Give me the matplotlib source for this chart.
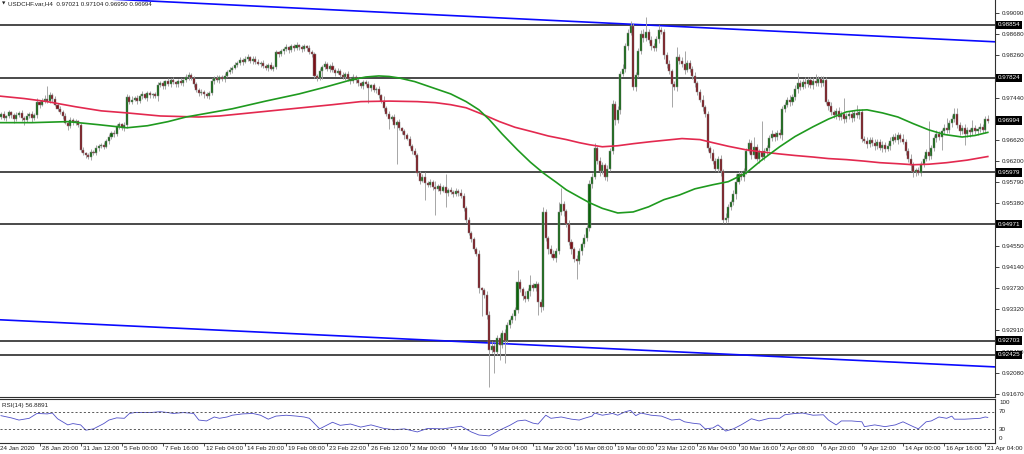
import matplotlib
matplotlib.use("Agg")
import matplotlib.pyplot as plt
import matplotlib.transforms as mtrans
import numpy as np

plt.rcParams['font.family'] = ['Liberation Sans', 'DejaVu Sans']

# ---------------- data ----------------
chart_title = "USDCHF.var,H4  0.97021 0.97104 0.96950 0.96994"
rsi_title = "RSI(14) 56.8891"

first_open_pips = 9704          # prices in pips (1e-4)
close_pips = [
    9706, 9712, 9704, 9708, 9715, 9710, 9702, 9709, 9714, 9705,
    9700, 9708, 9712, 9704, 9710, 9735, 9730, 9738, 9742, 9738,
    9748, 9742, 9730, 9722, 9716, 9708, 9695, 9688, 9700, 9696,
    9698, 9690, 9642, 9635, 9632, 9628, 9638, 9635, 9645, 9650,
    9652, 9648, 9660, 9668, 9675, 9672, 9688, 9692, 9684, 9690,
    9745, 9736, 9740, 9744, 9738, 9746, 9750, 9744, 9752, 9748,
    9750, 9746, 9768, 9772, 9766, 9776, 9770, 9778, 9774, 9770,
    9776, 9772, 9778, 9784, 9788, 9782, 9770, 9758, 9752, 9755,
    9750, 9746, 9752, 9776, 9782, 9778, 9784, 9780, 9786, 9794,
    9798, 9802, 9808, 9812, 9818, 9814, 9820, 9822, 9816, 9820,
    9814, 9810, 9812, 9806, 9802, 9808, 9800, 9804, 9832, 9828,
    9834, 9838, 9842, 9836, 9844, 9840, 9846, 9842, 9838, 9844,
    9840, 9832, 9828, 9786, 9782, 9796, 9804, 9810, 9800, 9806,
    9798, 9792, 9796, 9788, 9784, 9790, 9780, 9776, 9784, 9778,
    9772, 9766, 9774, 9770, 9762, 9768, 9758, 9760, 9748, 9738,
    9724, 9712, 9702, 9706, 9690, 9696, 9684, 9678, 9670, 9664,
    9650, 9640, 9632, 9596, 9582, 9590, 9578, 9574, 9580, 9570,
    9566, 9572, 9562, 9570, 9558, 9564, 9560, 9556, 9562, 9558,
    9552, 9528, 9505, 9480, 9468, 9448, 9440, 9372, 9368, 9360,
    9320, 9252, 9260, 9248, 9275, 9262, 9285, 9270, 9300, 9310,
    9318, 9330, 9385, 9370, 9358, 9352, 9366, 9378, 9372, 9380,
    9346, 9335, 9520, 9470, 9448, 9440, 9432, 9445, 9520, 9536,
    9522, 9498, 9462, 9448, 9430, 9425, 9445, 9458, 9470, 9490,
    9575, 9590, 9645, 9620, 9600, 9612, 9590, 9605, 9640, 9732,
    9700, 9720, 9790, 9800, 9845, 9870, 9884, 9765, 9788, 9835,
    9868, 9860, 9872, 9856, 9845, 9840, 9858, 9875, 9872, 9826,
    9810, 9795, 9770, 9765, 9822, 9815, 9810, 9798, 9812, 9800,
    9785, 9772, 9755, 9740, 9725, 9712, 9645, 9635, 9620, 9605,
    9625, 9600, 9505, 9510, 9530, 9540, 9555, 9580, 9595, 9590,
    9600, 9640, 9655, 9632, 9648, 9625, 9638, 9628, 9640, 9645,
    9665, 9672, 9668, 9675, 9670, 9722, 9730, 9740, 9735, 9745,
    9760, 9772, 9765, 9775, 9770, 9778, 9768, 9776, 9772, 9780,
    9772, 9778, 9736, 9728, 9715, 9710, 9718, 9706, 9712, 9702,
    9708, 9712, 9705, 9714, 9710, 9716, 9664, 9660, 9654, 9662,
    9655, 9650, 9658, 9646, 9652, 9644, 9650, 9660, 9668, 9662,
    9670, 9664, 9658, 9640, 9625, 9612, 9598, 9602, 9596, 9615,
    9625, 9638, 9630, 9645, 9665, 9672, 9668, 9678, 9685, 9680,
    9695, 9702, 9712, 9690, 9678, 9685, 9672, 9680, 9676, 9684,
    9678, 9682, 9686, 9680, 9702, 9699,
]
upper_wick_pips = [
    4, 3, 6, 2, 5, 3, 4, 6, 3, 5,
    3, 5, 4, 6, 3, 8, 4, 5, 6, 25,
    6, 4, 5, 3, 6, 4, 5, 3, 6, 4,
    5, 3, 4, 6, 3, 4, 5, 3, 6, 4,
    3, 6, 4, 5, 3, 6, 4, 5, 3, 6,
    5, 4, 6, 3, 5, 4, 6, 3, 5, 4,
    3, 5, 6, 4, 5, 3, 6, 4, 5, 3,
    4, 6, 3, 5, 6, 4, 3, 5, 4, 6,
    3, 5, 4, 6, 3, 5, 4, 3, 6, 4,
    5, 3, 6, 4, 5, 3, 4, 6, 3, 5,
    4, 6, 3, 5, 4, 3, 6, 4, 5, 3,
    5, 4, 6, 3, 5, 4, 6, 3, 4, 5,
    3, 6, 4, 5, 3, 6, 4, 5, 3, 4,
    8, 4, 6, 3, 5, 4, 6, 3, 5, 4,
    6, 3, 5, 4, 6, 3, 5, 4, 6, 3,
    8, 4, 6, 3, 5, 4, 6, 3, 5, 4,
    5, 4, 6, 3, 5, 4, 8, 3, 5, 4,
    12, 4, 6, 3, 25, 4, 6, 3, 5, 4,
    8, 5, 4, 6, 3, 5, 4, 6, 3, 5,
    6, 8, 10, 5, 6, 8, 5, 7, 6, 5,
    6, 5, 23, 6, 5, 8, 6, 20, 5, 6,
    5, 6, 10, 6, 5, 8, 6, 5, 20, 32,
    6, 5, 8, 6, 5, 7, 6, 5, 8, 6,
    8, 6, 10, 5, 8, 6, 5, 7, 6, 8,
    6, 8, 5, 10, 6, 8, 10, 5, 6, 5,
    8, 10, 28, 6, 8, 5, 6, 10, 6, 5,
    6, 8, 5, 6, 20, 6, 8, 25, 6, 5,
    6, 8, 5, 6, 8, 5, 6, 5, 8, 6,
    5, 6, 5, 8, 6, 5, 8, 15, 6, 5,
    6, 5, 8, 6, 20, 5, 6, 60, 5, 6,
    6, 8, 5, 6, 8, 5, 6, 5, 8, 6,
    8, 20, 6, 5, 8, 6, 5, 8, 14, 6,
    6, 8, 5, 6, 8, 5, 6, 8, 5, 31,
    6, 5, 8, 6, 15, 5, 6, 5, 8, 6,
    6, 8, 5, 6, 8, 5, 6, 8, 5, 6,
    6, 5, 8, 6, 5, 8, 6, 5, 6, 5,
    6, 5, 60, 6, 5, 8, 6, 5, 8, 20,
    6, 8, 12, 12, 6, 5, 8, 6, 5, 16,
    6, 5, 8, 6, 5, 8,
]
lower_wick_pips = [
    5, 3, 4, 6, 3, 5, 8, 4, 3, 6,
    10, 4, 3, 8, 4, 5, 6, 3, 4, 5,
    4, 6, 3, 5, 4, 6, 3, 8, 4, 5,
    6, 3, 5, 4, 6, 3, 5, 4, 3, 6,
    4, 5, 3, 6, 4, 5, 3, 6, 4, 5,
    6, 4, 5, 3, 6, 4, 5, 3, 6, 4,
    5, 3, 8, 4, 5, 6, 3, 5, 4, 6,
    5, 4, 6, 3, 5, 4, 6, 3, 5, 4,
    6, 3, 5, 4, 6, 3, 5, 4, 6, 3,
    4, 6, 3, 5, 4, 6, 3, 5, 4, 6,
    5, 3, 6, 4, 5, 6, 3, 5, 4, 6,
    3, 5, 4, 6, 3, 5, 4, 6, 5, 4,
    6, 3, 5, 4, 6, 3, 15, 4, 5, 6,
    4, 6, 3, 5, 4, 6, 3, 5, 4, 6,
    5, 3, 6, 4, 28, 5, 3, 6, 4, 5,
    6, 4, 20, 3, 6, 75, 4, 5, 6, 3,
    5, 6, 4, 5, 6, 3, 33, 5, 4, 6,
    50, 5, 6, 3, 27, 5, 4, 6, 3, 5,
    4, 6, 5, 3, 6, 4, 5, 8, 50, 6,
    8, 72, 6, 40, 5, 30, 6, 43, 5, 6,
    5, 8, 6, 5, 8, 6, 5, 8, 6, 5,
    26, 8, 6, 5, 8, 6, 5, 8, 6, 5,
    8, 6, 5, 8, 6, 35, 5, 8, 6, 5,
    6, 8, 5, 6, 8, 5, 6, 8, 5, 6,
    10, 6, 8, 5, 6, 8, 5, 6, 8, 5,
    6, 8, 5, 6, 8, 5, 6, 8, 5, 6,
    8, 6, 45, 6, 8, 5, 6, 8, 5, 6,
    5, 8, 6, 5, 8, 6, 5, 8, 6, 5,
    6, 8, 5, 6, 8, 5, 6, 8, 5, 6,
    8, 6, 5, 8, 6, 5, 8, 6, 5, 8,
    6, 5, 8, 6, 5, 8, 6, 5, 8, 6,
    5, 8, 6, 5, 8, 6, 5, 8, 6, 5,
    8, 6, 5, 8, 6, 5, 8, 6, 5, 8,
    6, 5, 8, 6, 5, 8, 6, 5, 8, 6,
    5, 8, 6, 5, 8, 6, 5, 8, 6, 5,
    8, 6, 5, 8, 6, 12, 8, 6, 3, 5,
    6, 5, 8, 6, 5, 8, 6, 26, 5, 6,
    5, 8, 6, 5, 8, 6, 20, 5, 8, 6,
    5, 8, 6, 5, 6, 4,
]

# moving averages (bar index, value in pips)
ma_green_bar = [0, 13, 27, 39, 50, 58, 66, 73, 82, 91, 104, 117, 127, 137, 143, 148,
                152, 156, 162, 169, 176, 182, 187, 191, 196, 202, 207, 212, 217, 221,
                226, 230, 235, 241, 247, 253, 259, 265, 271, 278, 284, 291, 297, 304,
                310, 317, 323, 330, 334, 338, 344, 350, 356, 362, 368, 375, 380, 385]
ma_green = [9695, 9695, 9697, 9691, 9685, 9689, 9697, 9706, 9714, 9722, 9737, 9751,
            9764, 9778, 9784, 9786, 9785, 9782, 9775, 9763, 9751, 9736, 9720, 9701,
            9673, 9642, 9618, 9597, 9579, 9564, 9550, 9539, 9528, 9519, 9521, 9531,
            9545, 9554, 9566, 9574, 9580, 9597, 9622, 9648, 9668, 9687, 9702, 9716,
            9719, 9720, 9714, 9706, 9693, 9681, 9672, 9667, 9670, 9676]
ma_red_bar = [0, 10, 19, 30, 40, 50, 63, 78, 86, 94, 104, 114, 122, 130, 141, 152,
              163, 170, 176, 182, 189, 195, 201, 208, 214, 221, 226, 230, 235, 241,
              247, 254, 260, 266, 273, 278, 284, 291, 297, 304, 310, 317, 323, 330,
              337, 343, 350, 356, 362, 369, 377, 385]
ma_red = [9747, 9742, 9736, 9726, 9718, 9714, 9708, 9706, 9708, 9712, 9717, 9722,
          9726, 9730, 9736, 9737, 9736, 9734, 9730, 9724, 9710, 9697, 9686, 9677,
          9669, 9662, 9656, 9652, 9648, 9650, 9654, 9658, 9661, 9664, 9662, 9656,
          9649, 9642, 9638, 9634, 9631, 9628, 9625, 9623, 9620, 9617, 9615, 9613,
          9614, 9617, 9622, 9629]

# trend lines (bar index, price)
upper_trend_bar = [0, 388]
upper_trend = [0.99463, 0.98525]
lower_trend_bar = [0, 388]
lower_trend = [0.93110, 0.92190]

levels = [0.98854, 0.97824, 0.95979, 0.94971, 0.92703, 0.92425]
current_price = 0.96994

price_ticks = [0.99090, 0.98680, 0.98260, 0.97850, 0.97440, 0.97030, 0.96620,
               0.96200, 0.95790, 0.95380, 0.94970, 0.94550, 0.94140, 0.93730,
               0.93320, 0.92910, 0.92490, 0.92080, 0.91670]
hidden_tick_labels = [0.97850, 0.97030, 0.94970]   # covered by price boxes

rsi_bar = [1, 5, 8, 12, 15, 19, 21, 23, 27, 29, 32, 34, 37, 41, 43, 46, 49, 51, 53,
           59, 63, 66, 68, 72, 76, 78, 81, 84, 86, 89, 91, 95, 99, 102, 105, 108,
           112, 116, 119, 121, 125, 128, 130, 133, 137, 141, 145, 150, 154, 158,
           163, 167, 173, 180, 184, 187, 191, 195, 199, 202, 205, 208, 210, 213,
           215, 219, 223, 226, 228, 231, 232, 235, 239, 241, 244, 246, 248, 250,
           254, 258, 262, 265, 267, 270, 273, 275, 278, 280, 283, 286, 289, 293,
           296, 300, 304, 306, 310, 313, 317, 321, 323, 326, 328, 332, 336, 337,
           341, 345, 349, 352, 356, 358, 361, 363, 366, 369, 371, 372, 376, 382,
           384, 385]
rsi_val = [61, 56, 51, 55, 66, 65, 67, 54, 40, 43, 40, 28, 31, 43, 51, 56, 55, 66, 68,
           68, 70, 68, 66, 68, 66, 51, 49, 58, 55, 58, 62, 65, 66, 62, 53, 60,
           62, 60, 58, 55, 31, 40, 46, 39, 42, 35, 40, 32, 29, 31,
           24, 32, 31, 37, 24, 17, 15, 28, 39, 49, 51, 44, 42, 62,
           55, 58, 53, 51, 55, 60, 67, 62, 66, 62, 70, 73, 61, 67,
           62, 60, 51, 53, 47, 44, 42, 31, 33, 40, 26, 31, 40, 54,
           49, 55, 55, 63, 66, 67, 62, 63, 51, 40, 49, 49, 47, 36,
           40, 36, 40, 47, 36, 31, 47, 49, 58, 55, 60, 53, 53, 55,
           58, 57]
rsi_levels = [70, 30]

time_labels = ["24 Jan 2020", "28 Jan 20:00", "31 Jan 12:00", "5 Feb 00:00",
               "7 Feb 16:00", "12 Feb 04:00", "14 Feb 20:00", "19 Feb 08:00",
               "23 Feb 22:00", "26 Feb 12:00", "2 Mar 00:00", "4 Mar 16:00",
               "9 Mar 04:00", "11 Mar 20:00", "16 Mar 08:00", "19 Mar 00:00",
               "23 Mar 12:00", "26 Mar 04:00", "30 Mar 16:00", "2 Apr 08:00",
               "6 Apr 20:00", "9 Apr 12:00", "14 Apr 00:00", "16 Apr 16:00",
               "21 Apr 04:00"]
bars_per_label = 16

# ---------------- figure ----------------
W, H = 1024, 454
fig = plt.figure(figsize=(W / 100, H / 100), dpi=100)
fig.patch.set_facecolor('white')


def rect(l, t, r, b):
    return [l / W, 1 - b / H, (r - l) / W, (b - t) / H]


ax = fig.add_axes(rect(0, 0, 995, 397))
axr = fig.add_axes(rect(0, 398.5, 995, 442.5))

FS = 4.5
frame_col = '#303030'

n = len(close_pips)
bars = np.arange(n)
close = np.array(close_pips) / 1e4
opens = np.concatenate([[first_open_pips / 1e4], close[:-1]])
hi = np.maximum(opens, close) + np.array(upper_wick_pips) / 1e4
lo = np.minimum(opens, close) - np.array(lower_wick_pips) / 1e4

# horizontal levels
for lv in levels:
    ax.axhline(lv, color='#3a3a3a', lw=1.3, zorder=1)

# trend lines
ax.plot(upper_trend_bar, upper_trend, color='#0a0aff', lw=1.2, zorder=2)
ax.plot(lower_trend_bar, lower_trend, color='#0a0aff', lw=1.2, zorder=2)

# candles
ax.vlines(bars, lo, hi, color='#a0a0a0', lw=0.65, zorder=3)
bull = close >= opens
body_h = np.maximum(np.abs(close - opens), 0.00006)
body_b = np.minimum(close, opens)
ax.bar(bars[bull], body_h[bull], bottom=body_b[bull], width=0.8,
       color='#0b640b', edgecolor='#8a8a8a', lw=0.35, zorder=4)
ax.bar(bars[~bull], body_h[~bull], bottom=body_b[~bull], width=0.8,
       color='#7a1018', edgecolor='#8a8a8a', lw=0.35, zorder=4)

# moving averages
ax.plot(ma_red_bar, np.array(ma_red) / 1e4, color='#e3294f', lw=1.2, zorder=5)
ax.plot(ma_green_bar, np.array(ma_green) / 1e4, color='#1f9a1f', lw=1.2, zorder=5)

ax.set_xlim(0.62, 387.8)
ax.set_ylim(0.91604, 0.99340)

# price axis
ax.yaxis.tick_right()
ax.set_yticks(price_ticks)
ax.set_yticklabels(["" if p in hidden_tick_labels else f"{p:.5f}" for p in price_ticks])
ax.tick_params(axis='y', direction='out', length=3, width=0.6, pad=1.5,
               labelsize=FS, colors='#202020')
ax.set_xticks([])
for s in ['top', 'left']:
    ax.spines[s].set_visible(False)
for s in ['right', 'bottom']:
    ax.spines[s].set_color(frame_col)
    ax.spines[s].set_linewidth(0.8)

tr = mtrans.blended_transform_factory(ax.transAxes, ax.transData)
for lv in levels + [current_price]:
    ax.text(1.0025, lv, f"{lv:.5f}", transform=tr, fontsize=FS, color='white',
            va='center', ha='left', zorder=10, clip_on=False,
            bbox=dict(boxstyle='square,pad=0.28', fc='black', ec='none'))

ax.text(0.002, 0.991, "\u25BC", transform=ax.transAxes, fontsize=3.2,
        color='#202020', va='center', ha='left', family='DejaVu Sans', zorder=11)
ax.text(0.008, 0.991, chart_title, transform=ax.transAxes, fontsize=FS,
        color='#202020', va='center', ha='left', zorder=11)

# ---------------- RSI ----------------
axr.plot(rsi_bar, rsi_val, color='#5050c8', lw=0.6)
for lv in rsi_levels:
    axr.axhline(lv, color='#404040', lw=0.6, linestyle=(0, (2.5, 2.5)))
axr.set_xlim(0.62, 387.8)
axr.set_ylim(0, 100)
axr.set_yticks([])
axr.spines['left'].set_visible(False)
for s in ['top', 'right', 'bottom']:
    axr.spines[s].set_color(frame_col)
    axr.spines[s].set_linewidth(0.8)
trr = mtrans.blended_transform_factory(axr.transAxes, axr.transData)
for val, ypos in [("100", 90), ("70", 70), ("30", 30), ("0", 10)]:
    axr.text(1.004, ypos, val, transform=trr, fontsize=FS, color='#202020',
             va='center', ha='left', clip_on=False)
axr.text(0.002, 0.85, rsi_title, transform=axr.transAxes, fontsize=FS,
         color='#202020', va='center', ha='left')

# time axis
tick_bars = [k * bars_per_label for k in range(len(time_labels))]
axr.set_xticks([b for b in tick_bars if b > 0.62])
axr.set_xticklabels([])
axr.tick_params(axis='x', direction='out', length=2.5, width=0.6, colors='#303030')
trx = mtrans.blended_transform_factory(axr.transData, axr.transAxes)
for b, lab in zip(tick_bars, time_labels):
    axr.text(b + 0.8, -0.14, lab, transform=trx, fontsize=FS, color='#202020',
             va='center', ha='left', clip_on=False)

fig.savefig("out.png", dpi=100, facecolor='white')
